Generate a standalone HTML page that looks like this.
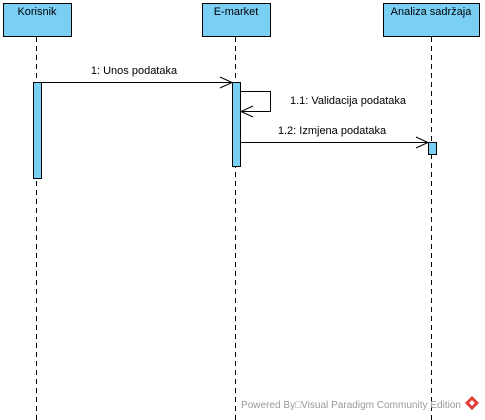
<!DOCTYPE html>
<html><head><style>
html,body{margin:0;padding:0;background:#fff;}
svg{display:block;}
text{font-family:"Liberation Sans",Arial,sans-serif;font-size:11px;fill:#000;}
</style></head><body>
<svg width="485" height="420" viewBox="0 0 485 420" xmlns="http://www.w3.org/2000/svg">
<g stroke="#000" stroke-width="1" stroke-dasharray="5,4">
<line x1="36.5" y1="37" x2="36.5" y2="420"/>
<line x1="235.5" y1="37" x2="235.5" y2="420"/>
<line x1="431.5" y1="37" x2="431.5" y2="420"/>
</g>
<g fill="#7ACFF5" stroke="#000" stroke-width="1">
<rect x="3.5" y="3.5" width="68" height="33"/>
<rect x="202.5" y="3.5" width="68" height="33"/>
<rect x="383.5" y="3.5" width="96" height="33"/>
<rect x="33.5" y="82.5" width="8" height="96"/>
<rect x="232.5" y="82.5" width="8" height="84"/>
<rect x="428.5" y="142.5" width="8" height="12"/>
</g>
<text x="37" y="15" text-anchor="middle">Korisnik</text>
<text x="236" y="15" text-anchor="middle">E-market</text>
<text x="431" y="15" text-anchor="middle">Analiza sadržaja</text>
<g stroke="#000" stroke-width="1" fill="none">
<line x1="41" y1="82.5" x2="232" y2="82.5"/>
<polyline points="220,77 232,82.5 220,88"/>
<polyline points="241,91.5 270.5,91.5 270.5,111.5 241,111.5"/>
<polyline points="253,106 241,111.5 253,117"/>
<line x1="241" y1="142.5" x2="428" y2="142.5"/>
<polyline points="416,137 428,142.5 416,148"/>
</g>
<text x="134" y="74" text-anchor="middle">1: Unos podataka</text>
<text x="290" y="104">1.1: Validacija podataka</text>
<text x="332" y="134" text-anchor="middle">1.2: Izmjena podataka</text>
<text x="241" y="408" textLength="220" lengthAdjust="spacingAndGlyphs" style="font-size:10.5px;fill:#999">Powered By□Visual Paradigm Community Edition</text>
<g transform="translate(472,403) rotate(45)">
<rect x="-5" y="-5" width="10" height="10" fill="#e0403a"/>
<rect x="-2" y="-2" width="4" height="4" fill="#fff"/>
</g>
</svg>
</body></html>
